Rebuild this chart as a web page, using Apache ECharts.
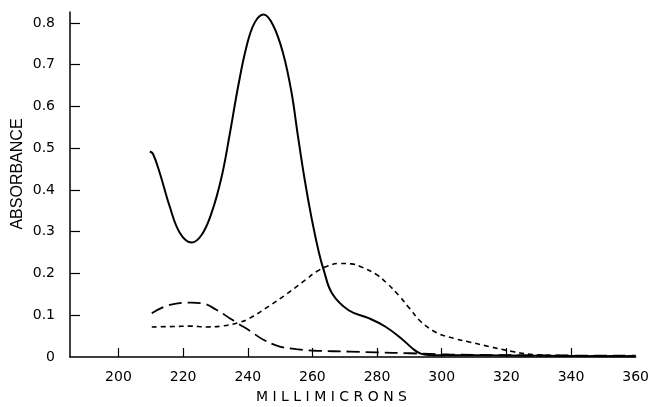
<!DOCTYPE html>
<html>
<head>
    <meta http-equiv="Content-Type" content="text/html; charset=utf-8"/>
    <title>Absorbance</title>
    <style>
        html, body { margin: 0; padding: 0; background: #fff; }
        #main { width: 652px; height: 407px; }
    </style>
    <script src="https://cdn.jsdelivr.net/npm/echarts@6/dist/echarts.min.js"></script>
</head>
<body>
<div id="main"></div>
<script type="text/javascript">
    // wavelength (millimicrons) and absorbance
    var solidX = [209.7, 210.7, 212.8, 215.9, 219.0, 222.6, 225.7, 228.8, 231.9, 234.5, 237.0, 239.6, 242.1, 244.9, 247.8, 250.9, 253.5, 255.5, 257.6, 259.8, 262.0, 263.5, 266.1, 271.2, 277.4, 282.5, 287.4, 291.5, 293.5, 296, 310, 330, 360];
    var solidY = [0.492, 0.486, 0.440, 0.359, 0.297, 0.274, 0.292, 0.345, 0.431, 0.537, 0.647, 0.743, 0.800, 0.820, 0.795, 0.728, 0.635, 0.530, 0.425, 0.330, 0.250, 0.208, 0.152, 0.112, 0.093, 0.073, 0.045, 0.017, 0.008, 0.005, 0.004, 0.003, 0.002];

    var longX = [210.3, 215.9, 222.6, 225.7, 230.3, 234.4, 237.0, 240.6, 244.7, 249.9, 255.0, 261.2, 271.5, 280.0, 290.0, 302.3, 330, 360];
    var longY = [0.105, 0.125, 0.130, 0.129, 0.113, 0.093, 0.080, 0.063, 0.042, 0.025, 0.019, 0.015, 0.013, 0.011, 0.009, 0.006, 0.004, 0.003];

    var shortX = [210.3, 216.9, 222.1, 227.2, 232.0, 237.5, 240.6, 246.8, 251.9, 258.1, 261.2, 264.5, 268.4, 272.0, 275.0, 279.7, 283.0, 286.9, 290.0, 293.5, 298.5, 304.0, 308.5, 314.7, 321.9, 328.1, 340, 360];
    var shortY = [0.072, 0.073, 0.074, 0.072, 0.074, 0.083, 0.093, 0.123, 0.150, 0.186, 0.204, 0.217, 0.224, 0.223, 0.216, 0.198, 0.177, 0.146, 0.117, 0.085, 0.058, 0.044, 0.036, 0.025, 0.013, 0.006, 0.003, 0.002];

    var xTicks = [200, 220, 240, 260, 280, 300, 320, 340];
    var xLabels = [200, 220, 240, 260, 280, 300, 320, 340, 360];
    var yTicks = [0.1, 0.2, 0.3, 0.4, 0.5, 0.6, 0.7, 0.8];
    var yLabels = [0, 0.1, 0.2, 0.3, 0.4, 0.5, 0.6, 0.7, 0.8];

    function pairs(xs, ys) {
        var out = [];
        for (var i = 0; i < xs.length; i++) {
            out.push([xs[i], ys[i]]);
        }
        return out;
    }

    var font = '"DejaVu Sans", Verdana, sans-serif';
    var myChart = echarts.init(document.getElementById('main'));

    var option = {
        animation: false,
        backgroundColor: '#fff',
        grid: {
            left: 70,
            right: 15,
            top: 12,
            bottom: 50
        },
        xAxis: {
            type: 'value',
            min: 185,
            max: 360,
            axisLine: { lineStyle: { color: '#000', width: 1.5 } },
            axisTick: {
                inside: true,
                length: 9,
                customValues: xTicks,
                lineStyle: { color: '#000', width: 1.2 }
            },
            axisLabel: {
                customValues: xLabels,
                margin: 13,
                color: '#000',
                fontFamily: font,
                fontSize: 14
            },
            splitLine: { show: false }
        },
        yAxis: {
            type: 'value',
            min: 0,
            max: 0.826,
            axisLine: { show: true, lineStyle: { color: '#000', width: 1.5 } },
            axisTick: {
                show: true,
                inside: true,
                length: 10,
                customValues: yTicks,
                lineStyle: { color: '#000', width: 1.2 }
            },
            axisLabel: {
                customValues: yLabels,
                margin: 15,
                color: '#000',
                fontFamily: font,
                fontSize: 14,
                formatter: function (v) {
                    return v === 0 ? '0' : v.toFixed(1);
                }
            },
            splitLine: { show: false }
        },
        graphic: [
            {
                type: 'text',
                left: 256,
                top: 390,
                style: {
                    text: 'M I L L I M I C R O N S',
                    fill: '#000',
                    font: '14px ' + font
                }
            },
            {
                type: 'text',
                x: 18,
                y: 174,
                rotation: Math.PI / 2,
                style: {
                    text: 'ABSORBANCE',
                    fill: '#000',
                    font: '16px "Liberation Sans", Arial, sans-serif',
                    align: 'center',
                    verticalAlign: 'middle'
                }
            }
        ],
        series: [
            {
                name: 'solid',
                type: 'line',
                smooth: 0.4,
                showSymbol: false,
                lineStyle: { color: '#000', width: 2 },
                data: pairs(solidX, solidY)
            },
            {
                name: 'long dash',
                type: 'line',
                smooth: 0.4,
                showSymbol: false,
                lineStyle: { color: '#000', width: 1.8, type: [13, 6] },
                data: pairs(longX, longY)
            },
            {
                name: 'short dash',
                type: 'line',
                smooth: 0.4,
                showSymbol: false,
                lineStyle: { color: '#000', width: 1.6, type: [5, 4] },
                data: pairs(shortX, shortY)
            }
        ]
    };
    myChart.setOption(option);
</script>
</body>
</html>
